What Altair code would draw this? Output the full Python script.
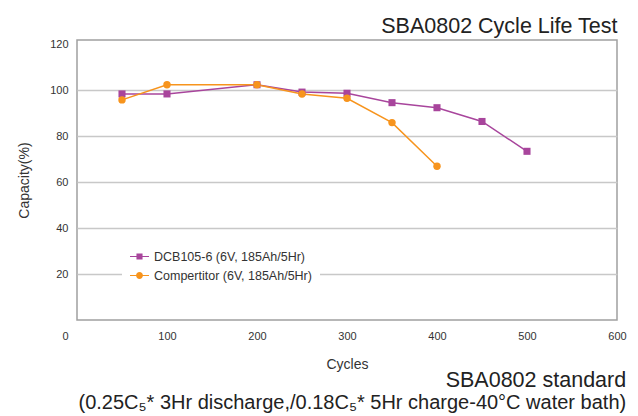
import altair as alt
import pandas as pd

series_names = ["DCB105-6", "Compertitor"]
dcb_cycles = [50, 100, 200, 250, 300, 350, 400, 450, 500]
dcb_capacity = [98.5, 98.5, 102.5, 99.3, 98.8, 94.7, 92.5, 86.5, 73.5]
comp_cycles = [50, 100, 200, 250, 300, 350, 400]
comp_capacity = [95.9, 102.5, 102.5, 98.5, 96.6, 86.0, 67.0]
x_ticks = [0, 100, 200, 300, 400, 500, 600]
y_ticks = [20, 40, 60, 80, 100, 120]
colors = ["#a8459c", "#f7941d"]

df = pd.DataFrame({
    "series": [series_names[0]] * len(dcb_cycles) + [series_names[1]] * len(comp_cycles),
    "cycles": dcb_cycles + comp_cycles,
    "capacity": dcb_capacity + comp_capacity,
})

FONT = "Liberation Sans"
xscale = alt.Scale(domain=[0, 600], nice=False, zero=False)
yscale = alt.Scale(domain=[0, 122], nice=False, zero=False)
color_scale = alt.Scale(domain=series_names, range=colors)

sq_path = "M-1,-0.06H1V0.06H-1Z M-0.32,-0.32H0.32V0.32H-0.32Z"
ci_path = "M-1,-0.06H1V0.06H-1Z M0.36,0A0.36,0.36 0 1,1 -0.36,0A0.36,0.36 0 1,1 0.36,0Z"

legend = alt.Legend(
    title=None, orient="none", legendX=45, legendY=199, fillColor="white",
    padding=8, symbolSize=361, symbolStrokeWidth=0, labelFontSize=12.5,
    labelFont=FONT, labelColor="#333333", labelOffset=5, rowPadding=3,
    labelExpr="datum.label + ' (6V, 185Ah/5Hr)'", direction="vertical",
)

top_axis = alt.Axis(
    orient="top", title="SBA0802 Cycle Life Test", labels=False, ticks=False,
    domain=False, grid=False, titleFontSize=21.5, titleFontWeight="normal",
    titleColor="#222222", titleBaseline="alphabetic", titleY=-8, titleX=540,
    titleAlign="right", titleFont=FONT,
)
bottom_axis = alt.Axis(
    values=x_ticks, title="Cycles", grid=False, domain=False, ticks=False,
    labelPadding=10, labelFontSize=11, labelColor="#333333", labelFlush=False,
    labelOffset={"condition": {"test": "datum.value == 0", "value": -12}, "value": 0},
    titleFontSize=14, titleFontWeight="normal", titleColor="#333333",
    titleBaseline="alphabetic", titleY=48, labelFont=FONT, titleFont=FONT,
)
y_axis = alt.Axis(
    values=y_ticks, title="Capacity(%)", grid=True,
    gridColor={"condition": {"test": "datum.value >= 120", "value": "transparent"}, "value": "#c8c8c8"},
    gridWidth=1.6, domain=False, ticks=False, labelPadding=9, labelFontSize=11,
    labelColor="#333333", titleFontSize=14, titleFontWeight="normal",
    titleColor="#333333", titleX=-53, titleY=140, titleAlign="center",
    titleBaseline="middle", labelFont=FONT, titleFont=FONT,
)

base = alt.Chart(df)

ghost = base.transform_filter("false").mark_point(filled=True, opacity=1, size=361).encode(
    x=alt.X("cycles:Q", scale=xscale, axis=top_axis),
    y=alt.Y("capacity:Q", scale=yscale, axis=y_axis),
    color=alt.Color("series:N", scale=color_scale, legend=legend),
    shape=alt.Shape("series:N", scale=alt.Scale(domain=series_names, range=[sq_path, ci_path]), legend=legend),
)

lines = base.mark_line(strokeWidth=1.5).encode(
    x=alt.X("cycles:Q", scale=xscale, axis=bottom_axis),
    y=alt.Y("capacity:Q", scale=yscale, axis=y_axis),
    stroke=alt.Stroke("series:N", scale=alt.Scale(domain=series_names, range=colors), legend=None),
)

pts_dcb = base.transform_filter(alt.datum.series == series_names[0]).mark_point(
    filled=True, opacity=1, size=50, shape="square"
).encode(
    x=alt.X("cycles:Q", scale=xscale, axis=None),
    y=alt.Y("capacity:Q", scale=yscale, axis=y_axis),
    color=alt.Color("series:N", scale=color_scale, legend=legend),
)
pts_comp = base.transform_filter(alt.datum.series == series_names[1]).mark_point(
    filled=True, opacity=1, size=55, shape="circle"
).encode(
    x=alt.X("cycles:Q", scale=xscale, axis=None),
    y=alt.Y("capacity:Q", scale=yscale, axis=y_axis),
    color=alt.Color("series:N", scale=color_scale, legend=legend),
)

chart = alt.layer(ghost, lines, pts_dcb, pts_comp).resolve_axis(x="independent").properties(
    width=540, height=280,
    autosize=alt.AutoSizeParams(type="none"),
    padding={"left": 69, "top": 32, "right": 13, "bottom": 96},
    title=alt.TitleParams(
        text="SBA0802 standard",
        subtitle="(0.25C\u2085* 3Hr discharge,/0.18C\u2085* 5Hr charge-40\u00b0C water bath)",
        orient="bottom", anchor="end", fontSize=21.5, fontWeight="normal",
        color="#222222", subtitleFontSize=20, subtitleColor="#222222",
        subtitlePadding=1, offset=-1, font=FONT, subtitleFont=FONT,
    ),
).configure(font=FONT).configure_view(stroke="#a0a0a0", strokeWidth=1.5)

chart.save("out.html", embed_options={"renderer": "svg", "actions": False})
